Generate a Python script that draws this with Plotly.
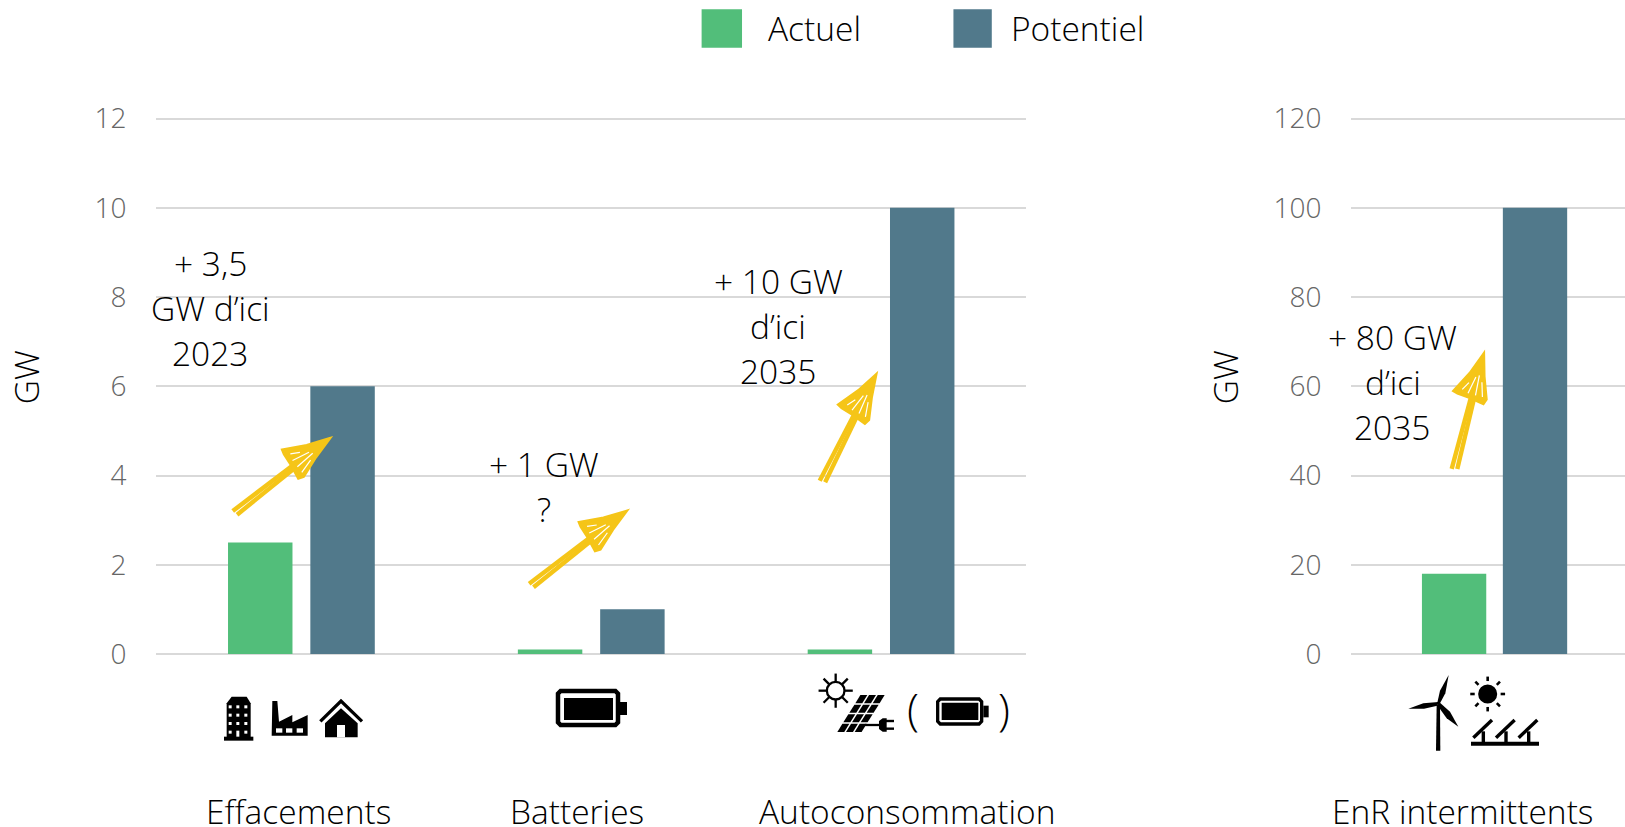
import math
import plotly.graph_objects as go

W, H = 1625, 827
K = 1625 / 1568  # the positions below are read from the 1568-wide view

# ---------- data ----------
categories_left = ["Effacements", "Batteries", "Autoconsommation"]
actuel_left = [2.5, 0.1, 0.1]
potentiel_left = [6, 1, 10]
categories_right = ["EnR intermittents"]
actuel_right = [18]
potentiel_right = [100]
series_names = ["Actuel", "Potentiel"]
ticks_left = [0, 2, 4, 6, 8, 10, 12]
ticks_right = [0, 20, 40, 60, 80, 100, 120]
notes = [
    (["+ 3,5", "GW d’ici", "2023"], 203, 254),
    (["+ 1 GW", "?"], 525, 448),
    (["+ 10 GW", "d’ici", "2035"], 751, 271),
    (["+ 80 GW", "d’ici", "2035"], 1344, 325),
]

# ---------- style ----------
GREEN, BLUE = "#52BE7A", "#51798B"
GRID, TICK, YELLOW = "#D9D9D9", "#666666", "#F5C518"
FONT = "Open Sans"
HEADROOM = 3
BASE, TOP = 631 * K, 114.5 * K
X0, X1 = 151 * K / W, 990 * K / W
Y0, Y1 = 1 - BASE / H, 1 - (TOP - HEADROOM) / H


def px(x):
    return x * K / W


def py(y):
    return 1 - y * K / H


def crop(ox, oy):
    """Positions measured in a 3x crop whose corner is at (ox, oy) of the full picture."""
    return lambda x, y: ((ox + x / 3) / K, (oy + y / 3) / K)


shapes, annotations = [], []


def path(points, fill=None, line=None, width=0, closed=True):
    d = "M" + " L".join(f"{px(x):.5f},{py(y):.5f}" for x, y in points) + (" Z" if closed else "")
    shapes.append(dict(type="path", xref="paper", yref="paper", path=d, layer="above",
                       fillcolor=fill or "rgba(0,0,0,0)",
                       line=dict(color=line or "rgba(0,0,0,0)", width=width)))


def rect(x0, y0, x1, y1, fill="black", line=None, width=0):
    path([(x0, y0), (x1, y0), (x1, y1), (x0, y1)], fill, line, width)


def circle(cx, cy, r, fill, line=None, width=0):
    shapes.append(dict(type="circle", xref="paper", yref="paper", layer="above",
                       x0=px(cx - r), x1=px(cx + r), y0=py(cy - r), y1=py(cy + r),
                       fillcolor=fill, line=dict(color=line or "rgba(0,0,0,0)", width=width)))


def text(s, x, y, size=33.5, color="black", anchor="center", angle=0):
    annotations.append(dict(text=s, x=(px(x) - X0) / (X1 - X0), y=(py(y) - Y0) / (Y1 - Y0),
                            xref="x domain", yref="y domain", showarrow=False,
                            xanchor=anchor, yanchor="middle", textangle=angle,
                            font=dict(family=FONT, size=size, color=color, weight=300)))


def arrow(tail, tip):
    dx, dy = tip[0] - tail[0], tip[1] - tail[1]

    def at(u, v):
        return (tail[0] + u * dx - v * dy, tail[1] + u * dy + v * dx)

    path([at(0, -0.02), at(0.66, -0.012)], None, YELLOW, 4.4, closed=False)
    path([at(0.01, 0.026), at(0.66, 0.014)], None, YELLOW, 4.4, closed=False)
    path([at(1, 0), at(0.82, -0.07), at(0.64, -0.165), at(0.63, -0.13), at(0.62, -0.02), at(0.60, 0.10),
          at(0.64, 0.115), at(0.82, 0.05)], YELLOW, YELLOW, 3.2)
    path([at(0.67, -0.10), at(0.74, -0.06)], None, "white", 1.2, closed=False)
    path([at(0.65, -0.045), at(0.80, -0.015)], None, "white", 1.2, closed=False)
    path([at(0.65, 0.02), at(0.82, 0.01)], None, "white", 1.2, closed=False)
    path([at(0.65, 0.08), at(0.77, 0.045)], None, "white", 1.2, closed=False)


def rounded(x0, y0, x1, y1, c):
    return [(x0 + c, y0), (x1 - c, y0), (x1, y0 + c), (x1, y1 - c), (x1 - c, y1), (x0 + c, y1), (x0, y1 - c), (x0, y0 + c)]


def sun_rays(cx, cy, r0, r1, width):
    for i in range(8):
        a = i * math.pi / 4
        path([(cx + r0 * math.cos(a), cy + r0 * math.sin(a)),
              (cx + r1 * math.cos(a), cy + r1 * math.sin(a))], None, "black", width, closed=False)


# ---------- legend ----------
rect(677, 9, 716, 46, GREEN)
rect(920, 9, 957, 46, BLUE)
text(series_names[0], 739, 27, anchor="left")
text(series_names[1], 974, 27, anchor="left")

# ---------- axis titles ----------
text("GW", 25, 364, angle=-90)
text("GW", 1182, 364, angle=-90)

# ---------- category labels ----------
for name, x in zip(categories_left + categories_right, [288, 557, 875, 1411]):
    text(name, x, 783)

# ---------- notes ----------
for lines, x, y in notes:
    for i, line in enumerate(lines):
        text(line, x, y + i * 43.3)

# ---------- hand-drawn arrows ----------
arrow((226, 495), (317.5, 423.5))
arrow((512, 565), (604, 493.5))
arrow((793, 465), (845, 362))
arrow((1403, 453), (1431.5, 342))

# ---------- icons: building, factory, house ----------
z = crop(215, 690)
path([z(35, 40), z(50, 20), z(95, 20), z(107, 40), z(107, 142), z(35, 142)], "black")
path([z(27, 140), z(115, 140), z(115, 152), z(27, 152)], "black")
for row_y in (46, 71, 96, 122):
    for col_x in (41, 64, 88):
        a, b = z(col_x, row_y), z(col_x + 9, row_y + (18 if (row_y == 122 and col_x == 64) else 9))
        rect(a[0], a[1], b[0], b[1], "white")
path([z(170, 137), z(172, 33), z(187, 33), z(192, 95), z(232, 75), z(232, 97), z(278, 75), z(278, 137)], "black")
for col_x in (183, 213, 245):
    a, b = z(col_x, 115), z(col_x + 19, 128)
    rect(a[0], a[1], b[0], b[1], "white")
path([z(316, 94), z(378, 33), z(441, 94)], None, "black", 3.3, closed=False)
path([z(330, 100), z(378, 55), z(428, 100), z(428, 142), z(330, 142)], "black")
a, b = z(366, 105), z(390, 142)
rect(a[0], a[1], b[0], b[1], "white")

# ---------- icons: batteries and brackets ----------
path(rounded(558 / K, 691 / K, 618 / K, 725 / K, 2.5), "white", "black", 4.5)
rect(564 / K, 698 / K, 613 / K, 720 / K)
rect(620 / K, 702 / K, 627 / K, 715 / K)
z = crop(810, 665)
a, b = z(383, 102), z(515, 177)
path(rounded(a[0], a[1], b[0], b[1], 2.5), "white", "black", 3.3)
a, b = z(395, 113), z(505, 165)
rect(a[0], a[1], b[0], b[1])
a, b = z(520, 122), z(536, 157)
rect(a[0], a[1], b[0], b[1])
text("(", 881, 684, 44)
text(")", 969, 684, 44)

# ---------- icons: sun, panel, plug ----------
cx, cy = z(77, 77)
sun_rays(cx, cy, 9, 16.5, 2.3)
circle(cx, cy, 8.5, "white", "black", 2.3)
tl, tr, bl = z(150, 88), z(228, 88), z(78, 203)
for row in range(4):
    for col in range(3):
        def cell(u, v):
            return (tl[0] + u * (tr[0] - tl[0]) + v * (bl[0] - tl[0]), tl[1] + v * (bl[1] - tl[1]))
        u0, u1 = (col + 0.1) / 3, (col + 0.9) / 3
        v0, v1 = (row + 0.08) / 4, (row + 0.92) / 4
        path([cell(u0, v0), cell(u1, v0), cell(u1, v1), cell(u0, v1)], "black")
path([z(165, 180), z(208, 180)], None, "black", 2.3, closed=False)
path([z(207, 168), z(218, 160), z(230, 160), z(230, 200), z(218, 200), z(207, 192)], "black")
path([z(228, 168), z(252, 168)], None, "black", 2.4, closed=False)
path([z(228, 191), z(252, 191)], None, "black", 2.4, closed=False)

# ---------- icons: wind turbine ----------
z = crop(1400, 670)
path([z(110, 105), z(120, 105), z(121, 242), z(108, 242)], "black")
path([z(112, 98), z(120, 62), z(146, 15), z(136, 70), z(120, 100)], "black")
path([z(115, 96), z(70, 100), z(25, 116), z(72, 116), z(112, 107)], "black")
path([z(120, 98), z(150, 125), z(175, 170), z(140, 145), z(112, 106)], "black")
hub = z(115, 100)
circle(hub[0], hub[1], 1.6, "black")

# ---------- icons: solar farm ----------
sx, sy = z(263, 72)
circle(sx, sy, 9.2, "black")
sun_rays(sx, sy, 12.5, 16.8, 2.6)
a, b = z(213, 215), z(417, 227)
rect(a[0], a[1], b[0], b[1])
for i in range(3):
    path([z(220 + i * 68, 203), z(276 + i * 68, 150)], None, "black", 3.4, closed=False)
    path([z(250 + i * 68, 184), z(250 + i * 68, 216)], None, "black", 3.4, closed=False)

# ---------- bars ----------
fig = go.Figure()
fig.add_bar(x=categories_left, y=actuel_left, name=series_names[0], marker=dict(color=GREEN, line_width=0),
            xaxis="x", yaxis="y", offsetgroup="a", showlegend=False)
fig.add_bar(x=categories_left, y=potentiel_left, name=series_names[1], marker=dict(color=BLUE, line_width=0),
            xaxis="x", yaxis="y", offsetgroup="p", showlegend=False)
fig.add_bar(x=categories_right, y=actuel_right, name=series_names[0], marker=dict(color=GREEN, line_width=0),
            xaxis="x2", yaxis="y2", width=0.2217, offset=-0.2569, showlegend=False)
fig.add_bar(x=categories_right, y=potentiel_right, name=series_names[1], marker=dict(color=BLUE, line_width=0),
            xaxis="x2", yaxis="y2", width=0.2217, offset=0.022, showlegend=False)

common_y = dict(domain=[Y0, Y1], automargin=False, showgrid=True, gridcolor=GRID, gridwidth=2, zeroline=True,
                zerolinecolor=GRID, zerolinewidth=2, showline=False, ticks="", ticklabelstandoff=29,
                tickfont=dict(family=FONT, size=28, color=TICK, weight=300))
common_x = dict(type="category", automargin=False, showgrid=False, zeroline=False, showline=False,
                showticklabels=False, ticks="")
extra = HEADROOM / (BASE - TOP)  # room above the last tick keeps its gridline

fig.update_layout(
    template="none",
    width=W, height=H, margin=dict(l=0, r=0, t=0, b=0, pad=0), autosize=False,
    paper_bgcolor="white", plot_bgcolor="white", showlegend=False,
    barmode="group", bargap=0.432, bargroupgap=0.217,
    xaxis=dict(domain=[X0, X1], range=[-0.5, 2.5], anchor="y", **common_x),
    yaxis=dict(range=[0, 12 * (1 + extra)], tickvals=ticks_left, anchor="x", **common_y),
    xaxis2=dict(domain=[px(1304), 1], range=[-0.5, 0.443], anchor="y2", **common_x),
    yaxis2=dict(range=[0, 120 * (1 + extra)], tickvals=ticks_right, anchor="x2", **common_y),
    shapes=shapes, annotations=annotations,
)

fig.write_html("out.html", config={"displayModeBar": False},
               post_script="document.body.style.margin='0';document.body.style.overflow='hidden';")
